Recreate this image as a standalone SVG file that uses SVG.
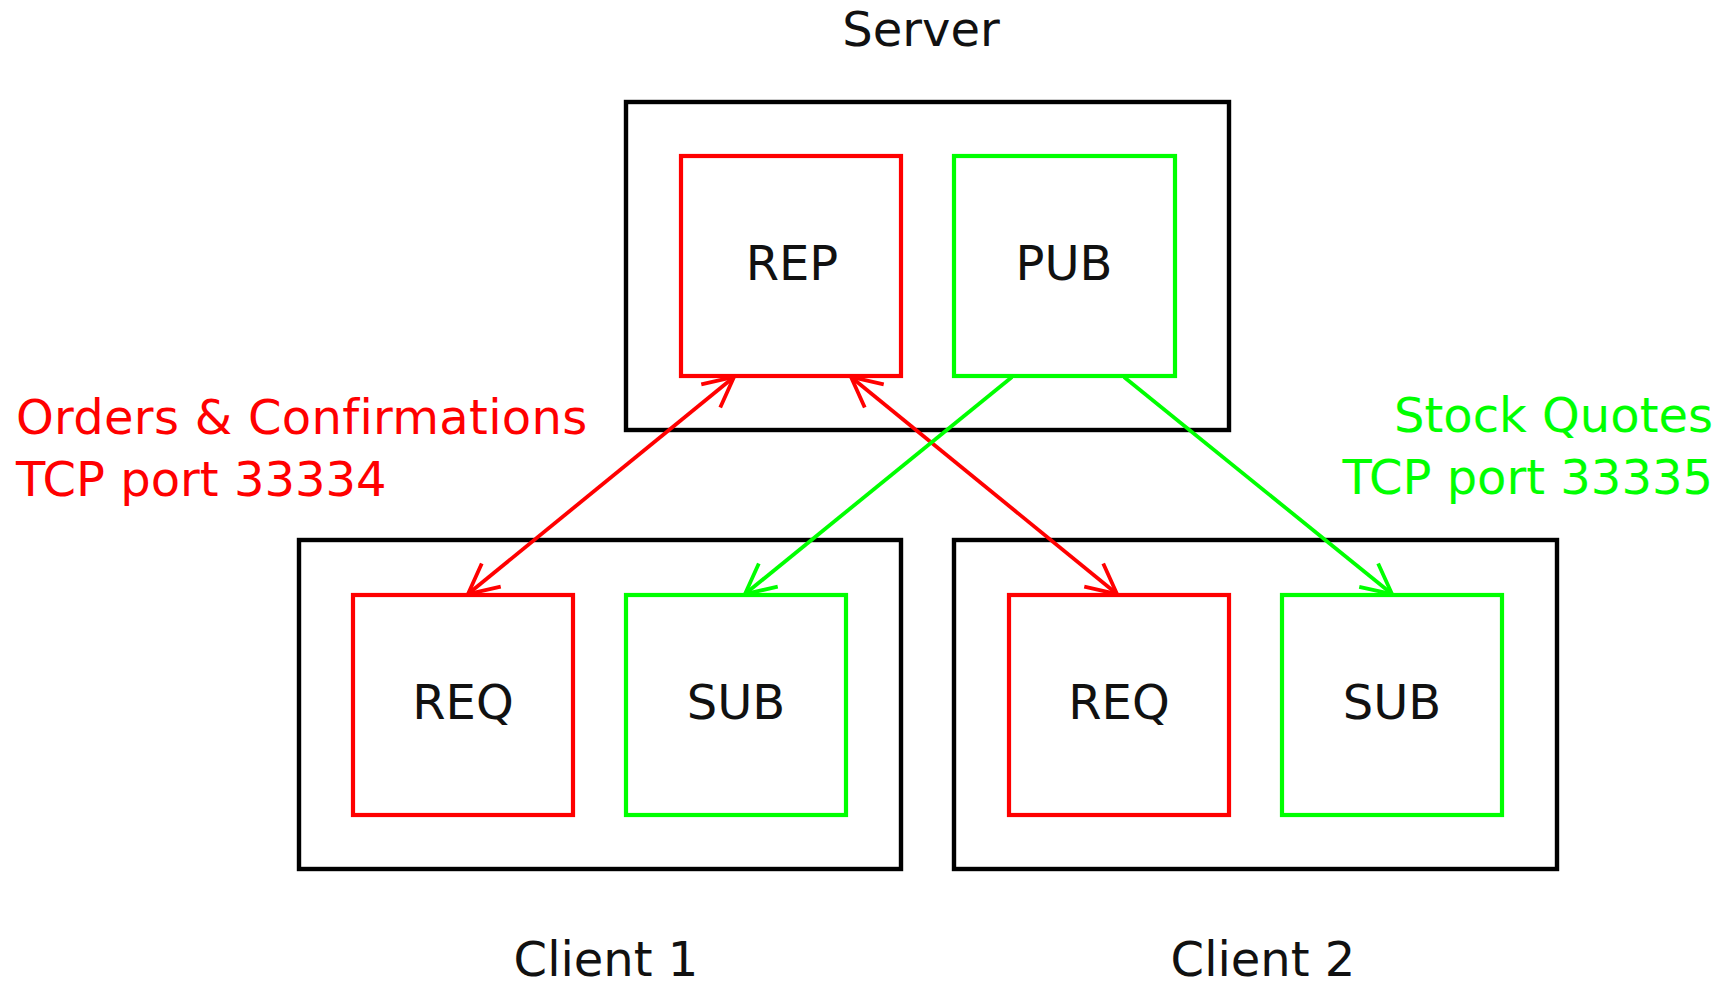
<svg xmlns="http://www.w3.org/2000/svg" width="1728" height="984" viewBox="0 0 1728 984">
  <style>
    text { font-family: "DejaVu Sans", "Noto Sans", sans-serif; font-size: 48px; }
    .label { fill: #111; text-anchor: middle; }
    .host { fill: none; stroke: #000; stroke-width: 4.4; }
    .sock-red { fill: #fff; stroke: #ff0000; stroke-width: 4.2; }
    .sock-green { fill: #fff; stroke: #00ff00; stroke-width: 4.2; }
    .link-red { stroke: #ff0000; stroke-width: 3.8; fill: none; }
    .link-green { stroke: #00ff00; stroke-width: 3.8; fill: none; }
    .note-red { fill: #ff0000; }
    .note-green { fill: #00ff00; text-anchor: end; }
  </style>
  <defs>
    <marker id="head-red" markerUnits="userSpaceOnUse" orient="auto-start-reverse" refX="0" refY="0" viewBox="-40 -20 44 40" markerWidth="44" markerHeight="40" overflow="visible">
      <path d="M-30,-15 L0,0 L-30,15" fill="none" stroke="#ff0000" stroke-width="3.8"/>
    </marker>
    <marker id="head-green" markerUnits="userSpaceOnUse" orient="auto-start-reverse" refX="0" refY="0" viewBox="-40 -20 44 40" markerWidth="44" markerHeight="40" overflow="visible">
      <path d="M-30,-15 L0,0 L-30,15" fill="none" stroke="#00ff00" stroke-width="3.8"/>
    </marker>
  </defs>

  <rect width="1728" height="984" fill="#fff"/>

  <!-- Server -->
  <g id="server">
    <rect class="host" x="626" y="102" width="603" height="328"/>
    <text class="label" x="921" y="46">Server</text>
  </g>
  <g id="server-rep">
    <rect class="sock-red" x="681" y="156" width="220" height="220"/>
    <text class="label" x="792" y="280">REP</text>
  </g>
  <g id="server-pub">
    <rect class="sock-green" x="954" y="156" width="221" height="220"/>
    <text class="label" x="1064" y="280">PUB</text>
  </g>

  <!-- Client 1 -->
  <g id="client1">
    <rect class="host" x="299" y="540" width="602" height="329"/>
    <text class="label" x="606" y="976">Client 1</text>
  </g>
  <g id="client1-req">
    <rect class="sock-red" x="353" y="595" width="220" height="220"/>
    <text class="label" x="463" y="719">REQ</text>
  </g>
  <g id="client1-sub">
    <rect class="sock-green" x="626" y="595" width="220" height="220"/>
    <text class="label" x="736" y="719">SUB</text>
  </g>

  <!-- Client 2 -->
  <g id="client2">
    <rect class="host" x="954" y="540" width="603" height="329"/>
    <text class="label" x="1263" y="976">Client 2</text>
  </g>
  <g id="client2-req">
    <rect class="sock-red" x="1009" y="595" width="220" height="220"/>
    <text class="label" x="1119" y="719">REQ</text>
  </g>
  <g id="client2-sub">
    <rect class="sock-green" x="1282" y="595" width="220" height="220"/>
    <text class="label" x="1392" y="719">SUB</text>
  </g>

  <!-- Connectors -->
  <g id="connectors">
    <line class="link-red" x1="734" y1="377" x2="468" y2="594" marker-start="url(#head-red)" marker-end="url(#head-red)"/>
    <line class="link-red" x1="851" y1="377" x2="1117" y2="594" marker-start="url(#head-red)" marker-end="url(#head-red)"/>
    <line class="link-green" x1="1012" y1="377" x2="745" y2="594" marker-end="url(#head-green)"/>
    <line class="link-green" x1="1124" y1="377" x2="1392" y2="594" marker-end="url(#head-green)"/>
  </g>

  <!-- Channel notes -->
  <g id="note-orders">
    <text class="note-red" x="16" y="434" letter-spacing="0.3">Orders &amp; Confirmations</text>
    <text class="note-red" x="16" y="496">TCP port 33334</text>
  </g>
  <g id="note-quotes">
    <text class="note-green" x="1713" y="432">Stock Quotes</text>
    <text class="note-green" x="1713" y="494">TCP port 33335</text>
  </g>
</svg>
